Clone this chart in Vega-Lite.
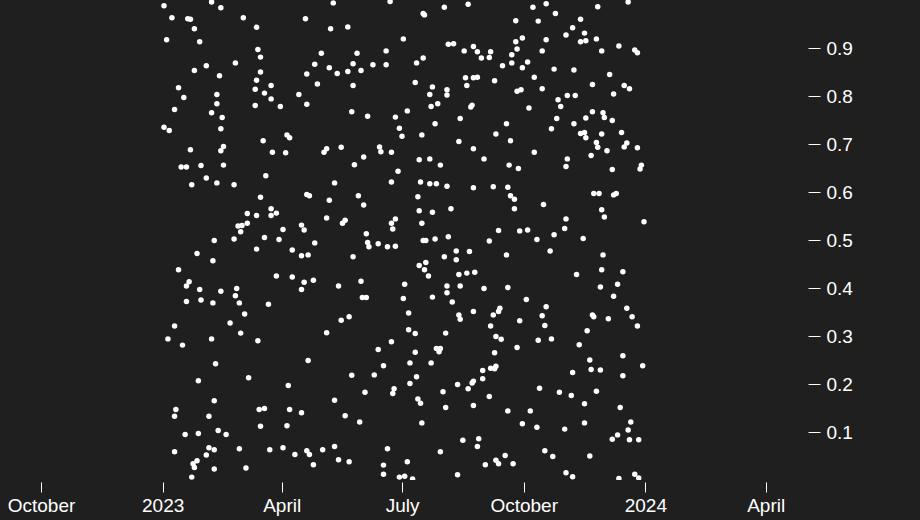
{
"$schema": "https://vega.github.io/schema/vega-lite/v6.json",
"width": 808, "height": 480,
"autosize": {"type": "none"},
"padding": {"left": 0, "top": 0, "right": 112, "bottom": 40},
"background": "#1f1f20",
"config": {"view": {"stroke": null}, "font": "Liberation Sans"},
"data": {"format": {"parse": {"d": "date:'%Y-%j'"}}, "values": [
{"d":"2023-002","v":0.988},{"d":"2023-038","v":0.996},{"d":"2023-045","v":0.984},{"d":"2023-008","v":0.963},{"d":"2023-020","v":0.961},{"d":"2023-022","v":0.960},{"d":"2023-062","v":0.963},{"d":"2023-025","v":0.940},{"d":"2023-004","v":0.917},{"d":"2023-029","v":0.913},{"d":"2023-056","v":0.869},{"d":"2023-034","v":0.863},{"d":"2023-025","v":0.853},{"d":"2023-044","v":0.842},{"d":"2023-013","v":0.817},{"d":"2023-017","v":0.797},{"d":"2023-042","v":0.803},{"d":"2023-042","v":0.784},{"d":"2023-010","v":0.772},{"d":"2023-038","v":0.765},{"d":"2023-046","v":0.755},{"d":"2023-002","v":0.735},{"d":"2023-006","v":0.728},{"d":"2023-045","v":0.732},{"d":"2023-022","v":0.688},{"d":"2023-047","v":0.695},{"d":"2023-045","v":0.686},{"d":"2023-015","v":0.652},{"d":"2023-019","v":0.652},{"d":"2023-030","v":0.655},{"d":"2023-047","v":0.656},{"d":"2023-034","v":0.629},{"d":"2023-023","v":0.615},{"d":"2023-042","v":0.619},{"d":"2023-055","v":0.615},{"d":"2023-065","v":0.555},{"d":"2023-058","v":0.529},{"d":"2023-061","v":0.530},{"d":"2023-065","v":0.535},{"d":"2023-060","v":0.517},{"d":"2023-040","v":0.499},{"d":"2023-055","v":0.502},
{"d":"2023-027","v":0.472},{"d":"2023-039","v":0.457},{"d":"2023-013","v":0.438},{"d":"2023-021","v":0.413},{"d":"2023-019","v":0.404},{"d":"2023-029","v":0.397},{"d":"2023-045","v":0.393},{"d":"2023-057","v":0.399},{"d":"2023-056","v":0.384},{"d":"2023-019","v":0.372},{"d":"2023-030","v":0.375},{"d":"2023-039","v":0.369},{"d":"2023-059","v":0.369},{"d":"2023-063","v":0.346},{"d":"2023-010","v":0.321},{"d":"2023-052","v":0.327},{"d":"2023-060","v":0.306},{"d":"2023-005","v":0.294},{"d":"2023-016","v":0.281},{"d":"2023-038","v":0.294},{"d":"2023-041","v":0.242},{"d":"2023-028","v":0.207},{"d":"2023-066","v":0.213},{"d":"2023-040","v":0.165},{"d":"2023-011","v":0.147},{"d":"2023-010","v":0.133},{"d":"2023-036","v":0.133},{"d":"2023-018","v":0.095},{"d":"2023-028","v":0.097},{"d":"2023-043","v":0.103},{"d":"2023-049","v":0.095},{"d":"2023-010","v":0.059},{"d":"2023-036","v":0.067},{"d":"2023-040","v":0.063},{"d":"2023-059","v":0.065},{"d":"2023-034","v":0.052},{"d":"2023-027","v":0.040},{"d":"2023-024","v":0.034},{"d":"2023-025","v":0.026},{"d":"2023-040","v":0.023},{"d":"2023-064","v":0.025},{"d":"2023-023","v":0.006},
{"d":"2023-130","v":0.994},{"d":"2023-109","v":0.961},{"d":"2023-072","v":0.943},{"d":"2023-128","v":0.940},{"d":"2023-141","v":0.944},{"d":"2023-073","v":0.897},{"d":"2023-075","v":0.881},{"d":"2023-121","v":0.889},{"d":"2023-116","v":0.866},{"d":"2023-110","v":0.846},{"d":"2023-127","v":0.859},{"d":"2023-133","v":0.847},{"d":"2023-141","v":0.851},{"d":"2023-145","v":0.867},{"d":"2023-075","v":0.850},{"d":"2023-072","v":0.833},{"d":"2023-083","v":0.822},{"d":"2023-118","v":0.825},{"d":"2023-145","v":0.822},{"d":"2023-071","v":0.814},{"d":"2023-078","v":0.806},{"d":"2023-083","v":0.794},{"d":"2023-071","v":0.780},{"d":"2023-104","v":0.803},{"d":"2023-110","v":0.783},{"d":"2023-090","v":0.778},{"d":"2023-144","v":0.767},{"d":"2023-077","v":0.707},{"d":"2023-095","v":0.719},{"d":"2023-097","v":0.713},{"d":"2023-084","v":0.683},{"d":"2023-094","v":0.682},{"d":"2023-125","v":0.690},{"d":"2023-123","v":0.683},{"d":"2023-136","v":0.693},{"d":"2023-146","v":0.657},{"d":"2023-079","v":0.634},{"d":"2023-131","v":0.619},{"d":"2023-075","v":0.589},{"d":"2023-110","v":0.595},{"d":"2023-112","v":0.592},{"d":"2023-127","v":0.583},{"d":"2023-083","v":0.565},{"d":"2023-072","v":0.551},{"d":"2023-083","v":0.551},{"d":"2023-087","v":0.556},{"d":"2023-125","v":0.546},{"d":"2023-139","v":0.541},{"d":"2023-137","v":0.535},{"d":"2023-106","v":0.531},{"d":"2023-108","v":0.521},{"d":"2023-092","v":0.522},{"d":"2023-078","v":0.505},{"d":"2023-089","v":0.501},{"d":"2023-116","v":0.494},
{"d":"2023-072","v":0.481},{"d":"2023-099","v":0.479},{"d":"2023-106","v":0.467},{"d":"2023-111","v":0.469},{"d":"2023-145","v":0.465},{"d":"2023-087","v":0.425},{"d":"2023-099","v":0.423},{"d":"2023-108","v":0.412},{"d":"2023-115","v":0.416},{"d":"2023-106","v":0.397},{"d":"2023-134","v":0.404},{"d":"2023-081","v":0.366},{"d":"2023-136","v":0.333},{"d":"2023-142","v":0.340},{"d":"2023-125","v":0.307},{"d":"2023-073","v":0.290},{"d":"2023-111","v":0.249},{"d":"2023-144","v":0.218},{"d":"2023-096","v":0.197},{"d":"2023-131","v":0.166},{"d":"2023-074","v":0.147},{"d":"2023-078","v":0.149},{"d":"2023-097","v":0.147},{"d":"2023-106","v":0.140},{"d":"2023-139","v":0.134},{"d":"2023-075","v":0.112},{"d":"2023-095","v":0.113},{"d":"2023-082","v":0.063},{"d":"2023-092","v":0.067},{"d":"2023-101","v":0.053},{"d":"2023-110","v":0.061},{"d":"2023-112","v":0.053},{"d":"2023-122","v":0.063},{"d":"2023-131","v":0.070},{"d":"2023-115","v":0.032},{"d":"2023-134","v":0.042},{"d":"2023-142","v":0.038},
{"d":"2023-173","v":0.997},{"d":"2023-214","v":0.985},{"d":"2023-198","v":0.972},{"d":"2023-199","v":0.969},{"d":"2023-183","v":0.919},{"d":"2023-148","v":0.889},{"d":"2023-170","v":0.894},{"d":"2023-217","v":0.908},{"d":"2023-221","v":0.909},{"d":"2023-160","v":0.865},{"d":"2023-170","v":0.865},{"d":"2023-151","v":0.853},{"d":"2023-193","v":0.869},{"d":"2023-198","v":0.879},{"d":"2023-192","v":0.828},{"d":"2023-205","v":0.819},{"d":"2023-203","v":0.803},{"d":"2023-216","v":0.813},{"d":"2023-216","v":0.802},{"d":"2023-204","v":0.778},{"d":"2023-209","v":0.784},{"d":"2023-186","v":0.769},{"d":"2023-156","v":0.758},{"d":"2023-177","v":0.756},{"d":"2023-207","v":0.742},{"d":"2023-180","v":0.733},{"d":"2023-182","v":0.716},{"d":"2023-197","v":0.719},{"d":"2023-165","v":0.694},{"d":"2023-166","v":0.684},{"d":"2023-174","v":0.683},{"d":"2023-153","v":0.673},{"d":"2023-195","v":0.667},{"d":"2023-203","v":0.669},{"d":"2023-211","v":0.656},{"d":"2023-179","v":0.643},{"d":"2023-174","v":0.621},{"d":"2023-196","v":0.621},{"d":"2023-203","v":0.617},{"d":"2023-208","v":0.617},{"d":"2023-216","v":0.612},{"d":"2023-149","v":0.592},{"d":"2023-153","v":0.573},{"d":"2023-194","v":0.590},{"d":"2023-195","v":0.561},{"d":"2023-205","v":0.558},{"d":"2023-219","v":0.565},{"d":"2023-177","v":0.544},{"d":"2023-174","v":0.535},{"d":"2023-175","v":0.523},{"d":"2023-197","v":0.535},{"d":"2023-155","v":0.513},{"d":"2023-198","v":0.499},{"d":"2023-200","v":0.499},{"d":"2023-207","v":0.502},{"d":"2023-217","v":0.507},
{"d":"2023-156","v":0.495},{"d":"2023-157","v":0.486},{"d":"2023-164","v":0.492},{"d":"2023-171","v":0.486},{"d":"2023-177","v":0.487},{"d":"2023-214","v":0.465},{"d":"2023-195","v":0.447},{"d":"2023-200","v":0.453},{"d":"2023-199","v":0.438},{"d":"2023-202","v":0.425},{"d":"2023-151","v":0.414},{"d":"2023-184","v":0.408},{"d":"2023-216","v":0.404},{"d":"2023-216","v":0.390},{"d":"2023-152","v":0.380},{"d":"2023-155","v":0.380},{"d":"2023-183","v":0.378},{"d":"2023-205","v":0.381},{"d":"2023-220","v":0.371},{"d":"2023-187","v":0.348},{"d":"2023-187","v":0.313},{"d":"2023-192","v":0.305},{"d":"2023-215","v":0.306},{"d":"2023-174","v":0.288},{"d":"2023-164","v":0.272},{"d":"2023-192","v":0.266},{"d":"2023-208","v":0.274},{"d":"2023-211","v":0.274},{"d":"2023-210","v":0.267},{"d":"2023-168","v":0.238},{"d":"2023-188","v":0.244},{"d":"2023-204","v":0.244},{"d":"2023-161","v":0.219},{"d":"2023-193","v":0.215},{"d":"2023-188","v":0.201},{"d":"2023-154","v":0.183},{"d":"2023-176","v":0.190},{"d":"2023-175","v":0.180},{"d":"2023-213","v":0.184},{"d":"2023-194","v":0.169},{"d":"2023-196","v":0.160},{"d":"2023-215","v":0.151},{"d":"2023-150","v":0.121},{"d":"2023-197","v":0.119},{"d":"2023-171","v":0.065},{"d":"2023-211","v":0.059},{"d":"2023-168","v":0.031},{"d":"2023-186","v":0.038},{"d":"2023-168","v":0.012},{"d":"2023-180","v":0.006},{"d":"2023-184","v":0.008},{"d":"2023-190","v":0.002},
{"d":"2023-232","v":0.991},{"d":"2023-281","v":0.985},{"d":"2023-291","v":0.992},{"d":"2023-268","v":0.957},{"d":"2023-285","v":0.956},{"d":"2023-236","v":0.903},{"d":"2023-229","v":0.894},{"d":"2023-239","v":0.892},{"d":"2023-249","v":0.892},{"d":"2023-242","v":0.879},{"d":"2023-248","v":0.880},{"d":"2023-273","v":0.921},{"d":"2023-268","v":0.913},{"d":"2023-291","v":0.917},{"d":"2023-269","v":0.898},{"d":"2023-265","v":0.886},{"d":"2023-288","v":0.894},{"d":"2023-258","v":0.863},{"d":"2023-265","v":0.869},{"d":"2023-277","v":0.871},{"d":"2023-273","v":0.859},{"d":"2023-297","v":0.856},{"d":"2023-230","v":0.838},{"d":"2023-236","v":0.838},{"d":"2023-239","v":0.839},{"d":"2023-252","v":0.832},{"d":"2023-282","v":0.839},{"d":"2023-231","v":0.822},{"d":"2023-269","v":0.810},{"d":"2023-272","v":0.813},{"d":"2023-288","v":0.815},{"d":"2023-235","v":0.781},{"d":"2023-234","v":0.777},{"d":"2023-278","v":0.775},{"d":"2023-226","v":0.753},{"d":"2023-261","v":0.742},{"d":"2023-295","v":0.732},{"d":"2023-253","v":0.721},{"d":"2023-264","v":0.707},{"d":"2023-225","v":0.705},{"d":"2023-236","v":0.690},{"d":"2023-282","v":0.683},{"d":"2023-244","v":0.669},{"d":"2023-263","v":0.656},{"d":"2023-270","v":0.649},{"d":"2023-236","v":0.609},{"d":"2023-251","v":0.611},{"d":"2023-262","v":0.610},{"d":"2023-264","v":0.592},{"d":"2023-267","v":0.585},{"d":"2023-267","v":0.565},{"d":"2023-289","v":0.574},{"d":"2023-255","v":0.520},{"d":"2023-271","v":0.519},{"d":"2023-277","v":0.521},{"d":"2023-248","v":0.498},{"d":"2023-284","v":0.501},{"d":"2023-297","v":0.511},
{"d":"2023-223","v":0.477},{"d":"2023-233","v":0.476},{"d":"2023-223","v":0.459},{"d":"2023-261","v":0.469},{"d":"2023-294","v":0.477},{"d":"2023-225","v":0.428},{"d":"2023-231","v":0.431},{"d":"2023-237","v":0.433},{"d":"2023-226","v":0.404},{"d":"2023-244","v":0.399},{"d":"2023-262","v":0.401},{"d":"2023-276","v":0.376},{"d":"2023-291","v":0.361},{"d":"2023-288","v":0.342},{"d":"2023-290","v":0.322},{"d":"2023-225","v":0.344},{"d":"2023-226","v":0.335},{"d":"2023-236","v":0.351},{"d":"2023-251","v":0.344},{"d":"2023-256","v":0.358},{"d":"2023-255","v":0.351},{"d":"2023-271","v":0.332},{"d":"2023-249","v":0.321},{"d":"2023-253","v":0.299},{"d":"2023-257","v":0.293},{"d":"2023-285","v":0.291},{"d":"2023-295","v":0.294},{"d":"2023-269","v":0.276},{"d":"2023-252","v":0.265},{"d":"2023-243","v":0.228},{"d":"2023-249","v":0.233},{"d":"2023-252","v":0.232},{"d":"2023-253","v":0.237},{"d":"2023-243","v":0.211},{"d":"2023-224","v":0.199},{"d":"2023-235","v":0.202},{"d":"2023-236","v":0.206},{"d":"2023-232","v":0.190},{"d":"2023-286","v":0.191},{"d":"2023-248","v":0.174},{"d":"2023-236","v":0.155},{"d":"2023-262","v":0.144},{"d":"2023-279","v":0.144},{"d":"2023-273","v":0.117},{"d":"2023-284","v":0.110},{"d":"2023-228","v":0.083},{"d":"2023-240","v":0.086},{"d":"2023-239","v":0.070},{"d":"2023-290","v":0.061},{"d":"2023-296","v":0.049},{"d":"2023-260","v":0.051},{"d":"2023-253","v":0.041},{"d":"2023-255","v":0.034},{"d":"2023-245","v":0.032},{"d":"2023-266","v":0.034},{"d":"2023-224","v":0.011},
{"d":"2023-298","v":0.972},{"d":"2023-330","v":0.986},{"d":"2023-353","v":0.996},{"d":"2023-317","v":0.960},{"d":"2023-311","v":0.942},{"d":"2023-320","v":0.931},{"d":"2023-306","v":0.927},{"d":"2023-317","v":0.913},{"d":"2023-321","v":0.915},{"d":"2023-329","v":0.919},{"d":"2023-333","v":0.894},{"d":"2023-346","v":0.904},{"d":"2023-358","v":0.896},{"d":"2023-360","v":0.890},{"d":"2023-312","v":0.854},{"d":"2023-339","v":0.845},{"d":"2023-326","v":0.824},{"d":"2023-350","v":0.822},{"d":"2023-354","v":0.815},{"d":"2023-342","v":0.804},{"d":"2023-307","v":0.801},{"d":"2023-313","v":0.801},{"d":"2023-300","v":0.792},{"d":"2023-302","v":0.778},{"d":"2023-299","v":0.753},{"d":"2023-326","v":0.767},{"d":"2023-334","v":0.765},{"d":"2023-335","v":0.755},{"d":"2023-321","v":0.754},{"d":"2023-341","v":0.749},{"d":"2023-312","v":0.742},{"d":"2023-348","v":0.724},{"d":"2023-317","v":0.722},{"d":"2023-320","v":0.724},{"d":"2023-321","v":0.713},{"d":"2023-333","v":0.721},{"d":"2023-329","v":0.703},{"d":"2023-330","v":0.693},{"d":"2023-352","v":0.702},{"d":"2023-350","v":0.694},{"d":"2023-360","v":0.692},{"d":"2023-337","v":0.686},{"d":"2023-307","v":0.669},{"d":"2023-306","v":0.653},{"d":"2023-325","v":0.676},{"d":"2023-341","v":0.647},{"d":"2023-363","v":0.656},{"d":"2023-362","v":0.648},{"d":"2023-327","v":0.597},{"d":"2023-331","v":0.597},{"d":"2023-342","v":0.594},{"d":"2023-344","v":0.597},{"d":"2023-333","v":0.563},{"d":"2023-335","v":0.548},{"d":"2023-365","v":0.538},{"d":"2023-306","v":0.544},{"d":"2023-305","v":0.524},{"d":"2023-319","v":0.503},
{"d":"2023-334","v":0.469},{"d":"2023-314","v":0.428},{"d":"2023-333","v":0.438},{"d":"2023-349","v":0.434},{"d":"2023-332","v":0.402},{"d":"2023-345","v":0.408},{"d":"2023-342","v":0.383},{"d":"2023-352","v":0.358},{"d":"2023-326","v":0.344},{"d":"2023-327","v":0.340},{"d":"2023-338","v":0.336},{"d":"2023-356","v":0.340},{"d":"2023-360","v":0.321},{"d":"2023-322","v":0.311},{"d":"2023-316","v":0.282},{"d":"2023-349","v":0.259},{"d":"2023-324","v":0.250},{"d":"2023-364","v":0.238},{"d":"2023-311","v":0.224},{"d":"2023-325","v":0.230},{"d":"2023-332","v":0.229},{"d":"2023-349","v":0.217},{"d":"2023-301","v":0.183},{"d":"2023-310","v":0.176},{"d":"2023-329","v":0.185},{"d":"2023-320","v":0.159},{"d":"2023-347","v":0.151},{"d":"2023-355","v":0.121},{"d":"2023-320","v":0.119},{"d":"2023-305","v":0.106},{"d":"2023-353","v":0.104},{"d":"2023-345","v":0.094},{"d":"2023-341","v":0.085},{"d":"2023-354","v":0.084},{"d":"2023-361","v":0.084},{"d":"2023-324","v":0.050},{"d":"2023-306","v":0.015},{"d":"2023-311","v":0.007},{"d":"2023-346","v":0.003},{"d":"2023-358","v":0.012},{"d":"2023-361","v":0.004}
]},
"mark": {"type": "circle", "size": 30, "color": "#ffffff", "opacity": 1, "clip": true},
"encoding": {
  "x": {"field": "d", "type": "temporal",
        "scale": {"domain": [{"year": 2022, "month": 8, "date": 31}, {"year": 2024, "month": 5, "date": 3}]},
        "axis": {"title": null, "domain": false, "grid": false, "tickCount": {"interval": "month", "step": 3},
                 "tickColor": "#ffffff", "tickSize": 10, "offset": 2, "labelPadding": 4, "labelColor": "#ffffff",
                 "labelFontSize": 19, "labelFont": "Liberation Sans", "labelFlush": false, "labelOverlap": false}},
  "y": {"field": "v", "type": "quantitative",
        "scale": {"domain": [0, 1], "nice": false, "zero": false},
        "axis": {"orient": "right", "title": null, "domain": false, "grid": false,
                 "values": [0.1, 0.2, 0.3, 0.4, 0.5, 0.6, 0.7, 0.8, 0.9], "format": ".1f",
                 "tickColor": "#ffffff", "tickSize": 12, "labelPadding": 6, "labelColor": "#ffffff",
                 "labelFontSize": 19, "labelFont": "Liberation Sans"}}
}
}
